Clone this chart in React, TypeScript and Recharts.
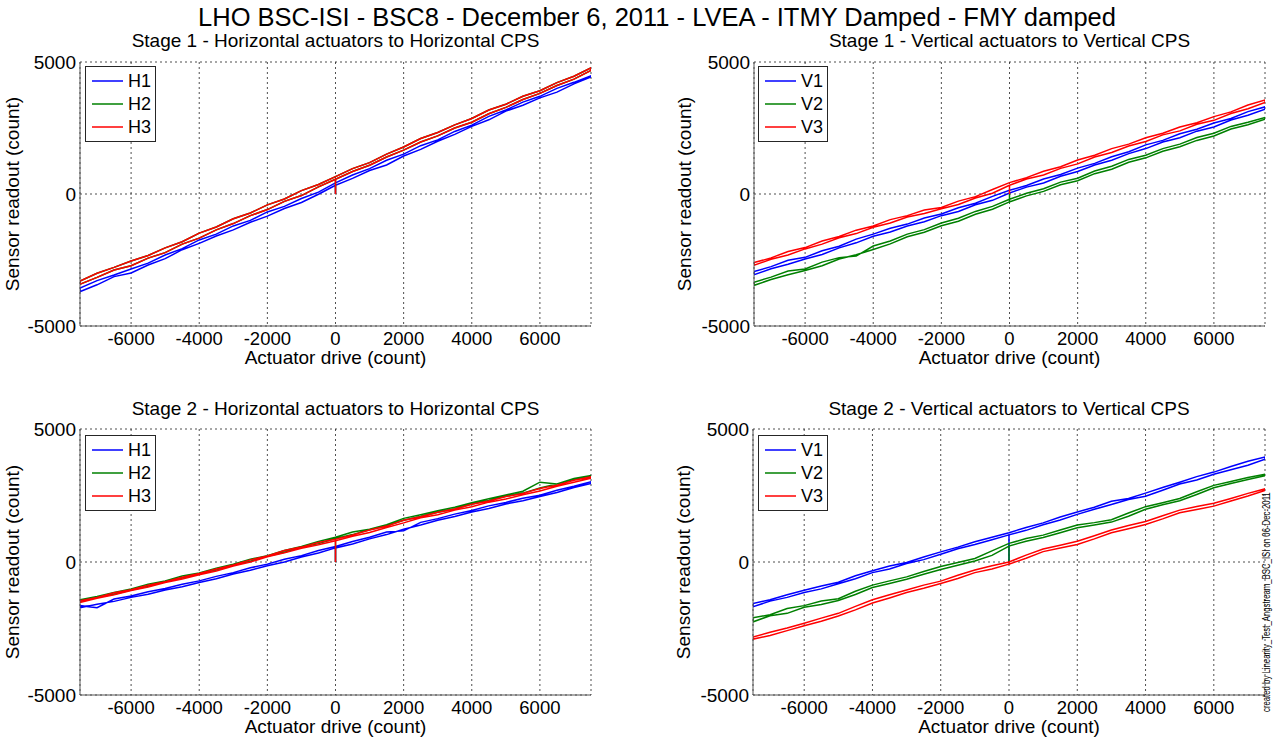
import { LineChart, Line, XAxis, YAxis, CartesianGrid, Legend } from "recharts";

const FONT = '"Liberation Sans", Arial, Helvetica, sans-serif';

// actuator drive steps (count)
const drive = [
  -7500, -7000, -6500, -6000, -5500, -5000, -4500, -4000, -3500, -3000, -2500, -2000, -1500, -1000, -500, 0,
  500, 1000, 1500, 2000, 2500, 3000, 3500, 4000, 4500, 5000, 5500, 6000, 6500, 7000, 7500,
];
const xTicks = [-6000, -4000, -2000, 0, 2000, 4000, 6000];
const yTicks = [-5000, 0, 5000];

// Stage 1 horizontal (rising pass / falling pass)
const s1H1Up = [-3700, -3440, -3130, -2990, -2690, -2450, -2110, -1870, -1590, -1360, -1070, -840, -550, -320, -10, 330, 590, 890, 1100, 1440, 1690, 2000, 2260, 2560, 2810, 3140, 3360, 3640, 3860, 4170, 4430];
const s1H1Down = [-3560, -3280, -3070, -2840, -2620, -2310, -2070, -1740, -1520, -1210, -1000, -680, -470, -170, 70, 420, 720, 960, 1280, 1510, 1830, 2050, 2370, 2610, 2940, 3180, 3480, 3700, 4000, 4230, 4480];
const s1H3Up = [-3420, -3160, -2880, -2720, -2430, -2220, -1900, -1670, -1360, -1120, -820, -590, -280, -60, 270, 560, 850, 1090, 1400, 1660, 1970, 2200, 2500, 2720, 3040, 3280, 3580, 3810, 4110, 4350, 4680];
const s1H3Down = [-3300, -3000, -2780, -2540, -2330, -2040, -1810, -1480, -1250, -940, -720, -410, -190, 130, 360, 660, 960, 1190, 1510, 1780, 2100, 2330, 2620, 2860, 3180, 3400, 3700, 3910, 4220, 4460, 4780];
// H2 sits under H3 in this test
const s1H2Up = s1H3Up;
const s1H2Down = s1H3Down;

// Stage 1 vertical
const s1V1Up = [-3060, -2830, -2660, -2460, -2290, -2040, -1850, -1600, -1440, -1210, -1050, -820, -660, -410, -240, 40, 260, 420, 670, 850, 1100, 1280, 1530, 1720, 1970, 2130, 2380, 2540, 2800, 2980, 3210];
const s1V1Down = [-2940, -2750, -2510, -2400, -2150, -1980, -1710, -1520, -1300, -1140, -910, -760, -520, -350, -90, 140, 320, 570, 740, 980, 1160, 1410, 1600, 1860, 2030, 2280, 2450, 2690, 2860, 3120, 3300];
const s1V2Up = [-3460, -3240, -3060, -2900, -2720, -2460, -2300, -2100, -1890, -1620, -1450, -1200, -1030, -770, -580, -300, -70, 100, 350, 500, 770, 940, 1200, 1370, 1620, 1790, 2030, 2200, 2460, 2620, 2830];
const s1V2Down = [-3340, -3150, -2920, -2840, -2580, -2410, -2350, -1970, -1780, -1520, -1350, -1100, -920, -660, -470, -200, 30, 200, 450, 600, 870, 1050, 1310, 1470, 1720, 1890, 2140, 2300, 2560, 2720, 2900];
const s1V3Up = [-2700, -2470, -2310, -2080, -1900, -1660, -1500, -1260, -1100, -870, -740, -560, -400, -150, 30, 330, 570, 720, 970, 1140, 1400, 1570, 1820, 1990, 2240, 2390, 2640, 2790, 3050, 3230, 3470];
const s1V3Down = [-2600, -2420, -2180, -2030, -1780, -1610, -1370, -1210, -970, -820, -610, -510, -270, -100, 170, 430, 620, 860, 1030, 1290, 1470, 1720, 1890, 2130, 2300, 2540, 2700, 2930, 3110, 3370, 3560];

// Stage 2 horizontal
const s2H1Up = [-1720, -1590, -1480, -1330, -1210, -1050, -930, -770, -630, -450, -310, -140, 0, 190, 340, 530, 680, 870, 1030, 1230, 1390, 1570, 1710, 1880, 2010, 2180, 2300, 2460, 2610, 2800, 2950];
const s2H1Down = [-1640, -1720, -1390, -1280, -1120, -1000, -840, -710, -540, -400, -220, -80, 100, 240, 430, 580, 770, 930, 1130, 1170, 1490, 1630, 1800, 1940, 2110, 2240, 2400, 2510, 2700, 2850, 3020];
const s2H2Up = [-1480, -1330, -1210, -1050, -910, -740, -600, -440, -300, -110, 30, 220, 370, 550, 690, 880, 1030, 1210, 1360, 1570, 1710, 1870, 1990, 2180, 2310, 2470, 2590, 2780, 2930, 3100, 3230];
const s2H2Down = [-1420, -1300, -1150, -1010, -840, -710, -530, -410, -230, -80, 100, 240, 430, 580, 770, 930, 1130, 1230, 1400, 1640, 1780, 1930, 2060, 2230, 2380, 2520, 2660, 3000, 2930, 3140, 3250];
const s2H3Up = [-1520, -1360, -1230, -1070, -940, -770, -640, -480, -340, -150, 0, 200, 350, 520, 650, 800, 970, 1110, 1300, 1470, 1660, 1780, 1950, 2080, 2250, 2370, 2530, 2670, 2850, 3000, 3150];
const s2H3Down = [-1460, -1330, -1160, -1040, -870, -740, -570, -430, -260, -110, 80, 230, 430, 560, 730, 860, 1020, 1200, 1350, 1570, 1700, 1870, 1990, 2170, 2290, 2460, 2580, 2760, 2890, 3070, 3200];

// Stage 2 vertical
const s2V1Up = [-1680, -1470, -1330, -1150, -1010, -820, -630, -400, -260, -60, 90, 290, 500, 660, 840, 1020, 1190, 1400, 1580, 1790, 1980, 2160, 2350, 2470, 2700, 2930, 3080, 3300, 3470, 3640, 3860];
const s2V1Down = [-1560, -1420, -1230, -1060, -900, -760, -520, -330, -150, -20, 190, 380, 560, 760, 930, 1100, 1300, 1470, 1690, 1880, 2060, 2280, 2390, 2590, 2800, 3000, 3210, 3380, 3590, 3790, 3950];
const s2V2Up = [-2250, -2020, -1930, -1700, -1600, -1450, -1220, -960, -810, -650, -460, -280, -120, 40, 250, 600, 780, 920, 1100, 1290, 1390, 1500, 1720, 1980, 2150, 2300, 2540, 2790, 2950, 3100, 3240];
const s2V2Down = [-2100, -1980, -1750, -1640, -1470, -1380, -1100, -870, -710, -560, -360, -170, -20, 130, 420, 700, 880, 1010, 1200, 1390, 1480, 1590, 1840, 2080, 2230, 2390, 2640, 2880, 3030, 3180, 3300];
const s2V3Up = [-2900, -2760, -2580, -2400, -2230, -2030, -1800, -1540, -1350, -1150, -990, -810, -620, -400, -260, -80, 140, 390, 530, 660, 870, 1100, 1250, 1410, 1620, 1850, 1970, 2100, 2290, 2480, 2690];
const s2V3Down = [-2820, -2640, -2480, -2300, -2110, -1930, -1670, -1420, -1230, -1050, -870, -720, -500, -300, -140, 0, 260, 490, 630, 780, 990, 1200, 1370, 1520, 1740, 1950, 2090, 2210, 2390, 2580, 2750];

const BLUE = "#0000ff";
const GREEN = "#008000";
const RED = "#ff0000";

// test starts at 0, ramps up to +max, down to -max, back to 0
function loop(up: number[], down: number[]) {
  const mid = drive.indexOf(0);
  const pts = [{ x: 0, y: 0 }];
  for (let i = mid; i < drive.length; i++) pts.push({ x: drive[i], y: up[i] });
  for (let i = drive.length - 1; i >= 0; i--) pts.push({ x: drive[i], y: down[i] });
  for (let i = 0; i <= mid; i++) pts.push({ x: drive[i], y: up[i] });
  return pts;
}

function BoxLegend({ payload }: any) {
  return (
    <div style={{ border: "1px solid #262626", background: "#fff", padding: "2px 4px 3px 6px", fontFamily: FONT, fontSize: 18, color: "#000" }}>
      {(payload || []).map((p: any) => (
        <div key={p.value} style={{ display: "flex", alignItems: "center", height: 23 }}>
          <svg width={31} height={4} style={{ display: "block" }}>
            <line x1={0} y1={2} x2={31} y2={2} stroke={p.color} strokeWidth={1.5} />
          </svg>
          <span style={{ marginLeft: 5, lineHeight: "18px" }}>{p.value}</span>
        </div>
      ))}
    </div>
  );
}

interface PanelProps {
  left: number;
  top: number;
  height: number;
  title: string;
  titleTop: number;
  yAxisWidth: number;
  marginTop: number;
  xAxisHeight: number;
  xLabelOffset: number;
  yLabelOffset: number;
  legendLeft: number;
  legendTop: number;
  series: Array<{ name: string; color: string; up: number[]; down: number[] }>;
}

function Panel(p: PanelProps) {
  const width = 640;
  const marginRight = p.left === 0 ? 49 : 15;
  return (
    <div style={{ position: "absolute", left: p.left, top: p.top, width, height: p.height }}>
      <div
        style={{
          position: "absolute",
          left: p.yAxisWidth,
          width: width - p.yAxisWidth - marginRight,
          top: p.titleTop,
          textAlign: "center",
          fontSize: 19,
          lineHeight: "19px",
          whiteSpace: "nowrap",
        }}
      >
        {p.title}
      </div>
      <LineChart width={width} height={p.height} margin={{ top: p.marginTop, right: marginRight, bottom: 0, left: 0 }}>
        <CartesianGrid stroke="#222" strokeDasharray="2 3" strokeWidth={0.8} />
        <XAxis
          dataKey="x"
          type="number"
          domain={[-7500, 7500]}
          ticks={xTicks}
          allowDataOverflow
          height={p.xAxisHeight}
          tickLine={false}
          tickSize={4}
          tickMargin={2}
          axisLine={{ stroke: "#555" }}
          tick={{ fill: "#000", fontSize: 18.5 }}
          label={{ value: "Actuator drive (count)", position: "insideBottom", offset: p.xLabelOffset, fill: "#000", fontSize: 19 }}
        />
        <YAxis
          dataKey="y"
          type="number"
          domain={[-5000, 5000]}
          ticks={yTicks}
          allowDataOverflow
          width={p.yAxisWidth}
          tickLine={false}
          tickSize={4}
          tickMargin={0}
          axisLine={{ stroke: "#555" }}
          tick={{ fill: "#000", fontSize: 19 }}
          label={{
            value: "Sensor readout (count)",
            angle: -90,
            position: "insideLeft",
            offset: p.yLabelOffset,
            fill: "#000",
            fontSize: 19,
            style: { textAnchor: "middle" },
          }}
        />
        <Legend
          layout="vertical"
          align="center"
          verticalAlign="middle"
          content={<BoxLegend />}
          wrapperStyle={{ left: p.legendLeft, top: p.legendTop, width: "auto" }}
        />
        {p.series.map((s) => (
          <Line
            key={s.name}
            name={s.name}
            data={loop(s.up, s.down)}
            dataKey="y"
            stroke={s.color}
            strokeWidth={1.5}
            dot={false}
            activeDot={false}
            isAnimationActive={false}
          />
        ))}
      </LineChart>
    </div>
  );
}

export default function App() {
  return (
    <div style={{ position: "absolute", left: 0, top: 0, width: 1280, height: 740, background: "#fff", fontFamily: FONT, color: "#000", overflow: "hidden" }}>
      <div style={{ position: "absolute", left: 0, width: 1314, top: 5, textAlign: "center", fontSize: 25.5, lineHeight: "25.5px", whiteSpace: "nowrap" }}>
        LHO BSC-ISI - BSC8 - December 6, 2011 - LVEA - ITMY Damped - FMY damped
      </div>
      <Panel
        left={0}
        top={0}
        height={375}
        title="Stage 1 - Horizontal actuators to Horizontal CPS"
        titleTop={31}
        yAxisWidth={80}
        marginTop={62}
        xAxisHeight={49}
        xLabelOffset={11}
        yLabelOffset={12}
        legendLeft={85}
        legendTop={66}
        series={[
          { name: "H1", color: BLUE, up: s1H1Up, down: s1H1Down },
          { name: "H2", color: GREEN, up: s1H2Up, down: s1H2Down },
          { name: "H3", color: RED, up: s1H3Up, down: s1H3Down },
        ]}
      />
      <Panel
        left={640}
        top={0}
        height={375}
        title="Stage 1 - Vertical actuators to Vertical CPS"
        titleTop={31}
        yAxisWidth={114}
        marginTop={62}
        xAxisHeight={49}
        xLabelOffset={11}
        yLabelOffset={44}
        legendLeft={118}
        legendTop={66}
        series={[
          { name: "V1", color: BLUE, up: s1V1Up, down: s1V1Down },
          { name: "V2", color: GREEN, up: s1V2Up, down: s1V2Down },
          { name: "V3", color: RED, up: s1V3Up, down: s1V3Down },
        ]}
      />
      <Panel
        left={0}
        top={370}
        height={370}
        title="Stage 2 - Horizontal actuators to Horizontal CPS"
        titleTop={29}
        yAxisWidth={80}
        marginTop={59}
        xAxisHeight={45}
        xLabelOffset={7}
        yLabelOffset={12}
        legendLeft={85}
        legendTop={65}
        series={[
          { name: "H1", color: BLUE, up: s2H1Up, down: s2H1Down },
          { name: "H2", color: GREEN, up: s2H2Up, down: s2H2Down },
          { name: "H3", color: RED, up: s2H3Up, down: s2H3Down },
        ]}
      />
      <Panel
        left={640}
        top={370}
        height={370}
        title="Stage 2 - Vertical actuators to Vertical CPS"
        titleTop={29}
        yAxisWidth={113}
        marginTop={59}
        xAxisHeight={45}
        xLabelOffset={7}
        yLabelOffset={43}
        legendLeft={118}
        legendTop={65}
        series={[
          { name: "V1", color: BLUE, up: s2V1Up, down: s2V1Down },
          { name: "V2", color: GREEN, up: s2V2Up, down: s2V2Down },
          { name: "V3", color: RED, up: s2V3Up, down: s2V3Down },
        ]}
      />
      <div
        style={{
          position: "absolute",
          left: 1260,
          top: 712,
          transform: "rotate(-90deg) scaleX(0.74)",
          transformOrigin: "left top",
          fontSize: 10.5,
          lineHeight: "12px",
          whiteSpace: "nowrap",
          color: "#000",
        }}
      >
        created by Linearity_Test_Angstream_BSC_ISI on 06-Dec-2011
      </div>
    </div>
  );
}
